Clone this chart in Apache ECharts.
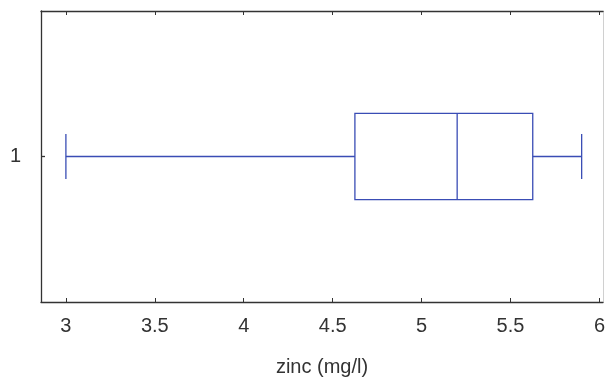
<!DOCTYPE html>
<html>
<head>
<meta charset="utf-8">
<script src="https://cdn.jsdelivr.net/npm/echarts@6/dist/echarts.min.js"></script>
<style>
  html, body { margin: 0; padding: 0; background: #fff; }
  #chart { width: 605px; height: 378px; }
</style>
</head>
<body>
<div id="chart"></div>
<script>
// zinc boxplot - horizontal, one group
const categories = ['1'];
const boxStats = [[3.0, 4.625, 5.2, 5.625, 5.9]]; // min, q1, median, q3, max
const xTicks = [3, 3.5, 4, 4.5, 5, 5.5, 6];

const chart = echarts.init(document.getElementById('chart'));
const lineColor = '#3a4db5';
const axisColor = '#333';

function renderBox(params, api) {
  const vals = [api.value(1), api.value(2), api.value(3), api.value(4), api.value(5)];
  const cat = api.value(0);
  const pts = vals.map(v => api.coord([v, cat]));
  const band = api.size([0, 1])[1];
  const bh = band * 0.148;   // half height of box
  const ch = band * 0.077;   // half height of whisker caps
  const y = pts[0][1];
  const st = { stroke: lineColor, lineWidth: 1.3, fill: null };
  const line = (x1, y1, x2, y2) => ({ type: 'line', shape: { x1, y1, x2, y2 }, style: st });
  return {
    type: 'group',
    children: [
      line(pts[0][0], y, pts[1][0], y),
      line(pts[3][0], y, pts[4][0], y),
      line(pts[0][0], y - ch, pts[0][0], y + ch),
      line(pts[4][0], y - ch, pts[4][0], y + ch),
      { type: 'rect', shape: { x: pts[1][0], y: y - bh, width: pts[3][0] - pts[1][0], height: bh * 2 }, style: st },
      line(pts[2][0], y - bh, pts[2][0], y + bh)
    ]
  };
}

// group positions on the y value axis (one slot per category)
const catPos = categories.map((c, i) => i);

const option = {
  animation: false,
  textStyle: { fontFamily: 'Liberation Sans, Arial, sans-serif' },
  grid: { left: 41, right: 2, top: 11, bottom: 76, outerBoundsMode: 'none', containLabel: false },
  xAxis: [
    {
      type: 'value',
      min: 2.86,
      max: 6.02,
      name: 'zinc (mg/l)',
      nameLocation: 'middle',
      nameGap: 55,
      nameTextStyle: { color: axisColor, fontSize: 20 },
      axisLine: { show: true, onZero: false, lineStyle: { color: axisColor, width: 1.3 } },
      axisTick: { show: true, inside: true, length: 4, customValues: xTicks, lineStyle: { color: axisColor } },
      axisLabel: { customValues: xTicks, color: axisColor, fontSize: 20, margin: 14 },
      splitLine: { show: false }
    },
    {
      type: 'value',
      position: 'top',
      min: 2.86,
      max: 6.02,
      axisLine: { show: true, onZero: false, lineStyle: { color: axisColor, width: 1.3 } },
      axisTick: { show: true, inside: true, length: 4, customValues: xTicks, lineStyle: { color: axisColor } },
      axisLabel: { show: false },
      splitLine: { show: false }
    }
  ],
  yAxis: [
    {
      type: 'value',
      min: -0.5,
      max: categories.length - 0.5,
      inverse: true,
      axisLine: { show: true, onZero: false, lineStyle: { color: axisColor, width: 1.3 } },
      axisTick: { show: true, inside: true, length: 4, customValues: catPos, lineStyle: { color: axisColor, width: 1.3 } },
      axisLabel: {
        customValues: catPos,
        formatter: v => categories[Math.round(v)],
        color: axisColor, fontSize: 20, margin: 20
      },
      splitLine: { show: false }
    },
    {
      type: 'value',
      position: 'right',
      min: -0.5,
      max: categories.length - 0.5,
      axisLine: { show: true, onZero: false, lineStyle: { color: '#d0d0d0', width: 1 } },
      axisTick: { show: false },
      axisLabel: { show: false },
      splitLine: { show: false }
    }
  ],
  series: [
    {
      type: 'custom',
      renderItem: renderBox,
      encode: { x: [1, 2, 3, 4, 5], y: 0 },
      data: boxStats.map((s, i) => [catPos[i]].concat(s))
    }
  ]
};

chart.setOption(option);
</script>
</body>
</html>
